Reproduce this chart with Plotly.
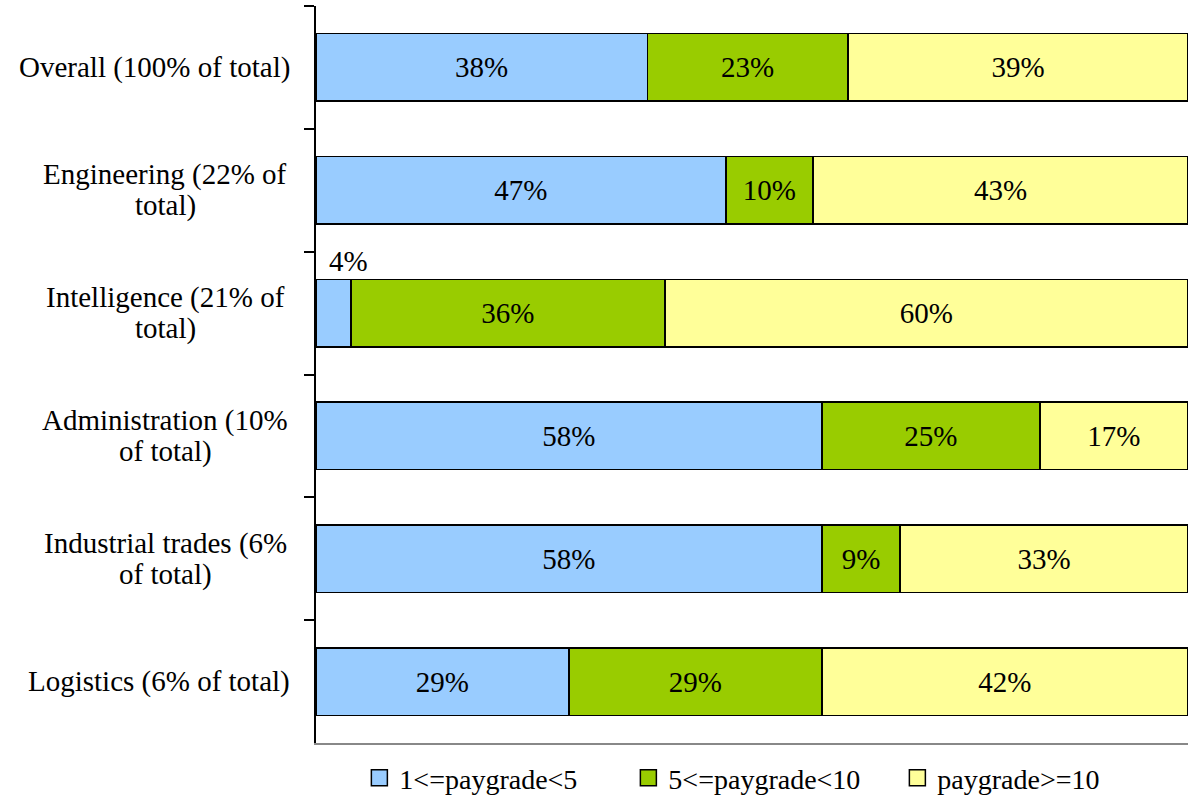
import plotly.graph_objects as go

categories = [
    "Overall (100% of total)",
    "Engineering (22% of<br>total)",
    "Intelligence (21% of<br>total)",
    "Administration (10%<br>of total)",
    "Industrial trades (6%<br>of total)",
    "Logistics (6% of total)",
]
series_names = ["1<=paygrade<5", "5<=paygrade<10", "paygrade>=10"]
low = [38, 47, 4, 58, 58, 29]
mid = [23, 10, 36, 25, 9, 29]
high = [39, 43, 60, 17, 33, 42]
colors = ["#99CCFF", "#99CC00", "#FFFF99"]

FONT = "Liberation Serif"
FS = 29
fig = go.Figure()
for name, vals, col in zip(series_names, [low, mid, high], colors):
    texts = [f"{v}%" for v in vals]
    positions = ["none" if v < 6 else "inside" for v in vals]
    fig.add_trace(go.Bar(
        y=categories, x=vals, name=name, orientation="h",
        marker=dict(color=col, line=dict(color="black", width=1.5)),
        text=texts, textposition=positions, insidetextanchor="middle",
        textfont=dict(family=FONT, size=FS, color="black"),
        constraintext="none", showlegend=False,
        hoverinfo="skip",
    ))
# legend entries (square swatches)
for name, col in zip(series_names, colors):
    fig.add_trace(go.Scatter(
        x=[None], y=[None], mode="markers", name=name,
        marker=dict(symbol="square", size=16, color=col,
                    line=dict(color="black", width=1.5)),
        showlegend=True, hoverinfo="skip",
    ))

annotations = []
LINE = 31
for c in categories:
    lines = c.split("<br>")
    if len(lines) == 1:
        annotations.append(dict(
            xref="paper", yref="y", x=0, y=c, xanchor="right", yanchor="middle",
            xshift=-24, showarrow=False, text=c,
            font=dict(family=FONT, size=FS, color="black"),
        ))
    else:
        n = len(lines)
        for i, ln in enumerate(lines):
            annotations.append(dict(
                xref="paper", yref="y", x=0, y=c, xanchor="center", yanchor="middle",
                xshift=-151, yshift=((n - 1) / 2 - i) * LINE, showarrow=False, text=ln,
                font=dict(family=FONT, size=FS, color="black"),
            ))
# small segment label placed above its bar
for c, v in zip(categories, low):
    if v < 6:
        annotations.append(dict(
            xref="x", yref="y", x=v / 2, y=c, xanchor="left", yanchor="middle",
            xshift=-6, yshift=52, showarrow=False, text=f"{v}%",
            font=dict(family=FONT, size=FS, color="black"),
        ))

fig.update_layout(
    barmode="stack",
    bargap=0.45,
    width=1188, height=798,
    margin=dict(l=316, r=0, t=6, b=55),
    paper_bgcolor="white", plot_bgcolor="white",
    font=dict(family=FONT, size=FS, color="black"),
    showlegend=True,
    legend=dict(
        orientation="h", xref="container", yref="container",
        x=0.3025, xanchor="left", y=0.025, yanchor="middle",
        font=dict(family=FONT, size=FS - 1, color="black"),
        itemwidth=30, traceorder="normal",
        entrywidth=224, entrywidthmode="pixels",
    ),
    annotations=annotations,
)
fig.update_xaxes(range=[0, 100], showticklabels=False, showgrid=False, zeroline=False,
                 showline=True, linecolor="#888888", linewidth=1.5, ticks="")
fig.update_yaxes(autorange="reversed", showticklabels=False, showgrid=False,
                 showline=True, linecolor="black", linewidth=1.5,
                 ticks="outside", tickson="boundaries", ticklen=10,
                 tickcolor="black", tickwidth=1.5)

fig.write_html("out.html")
